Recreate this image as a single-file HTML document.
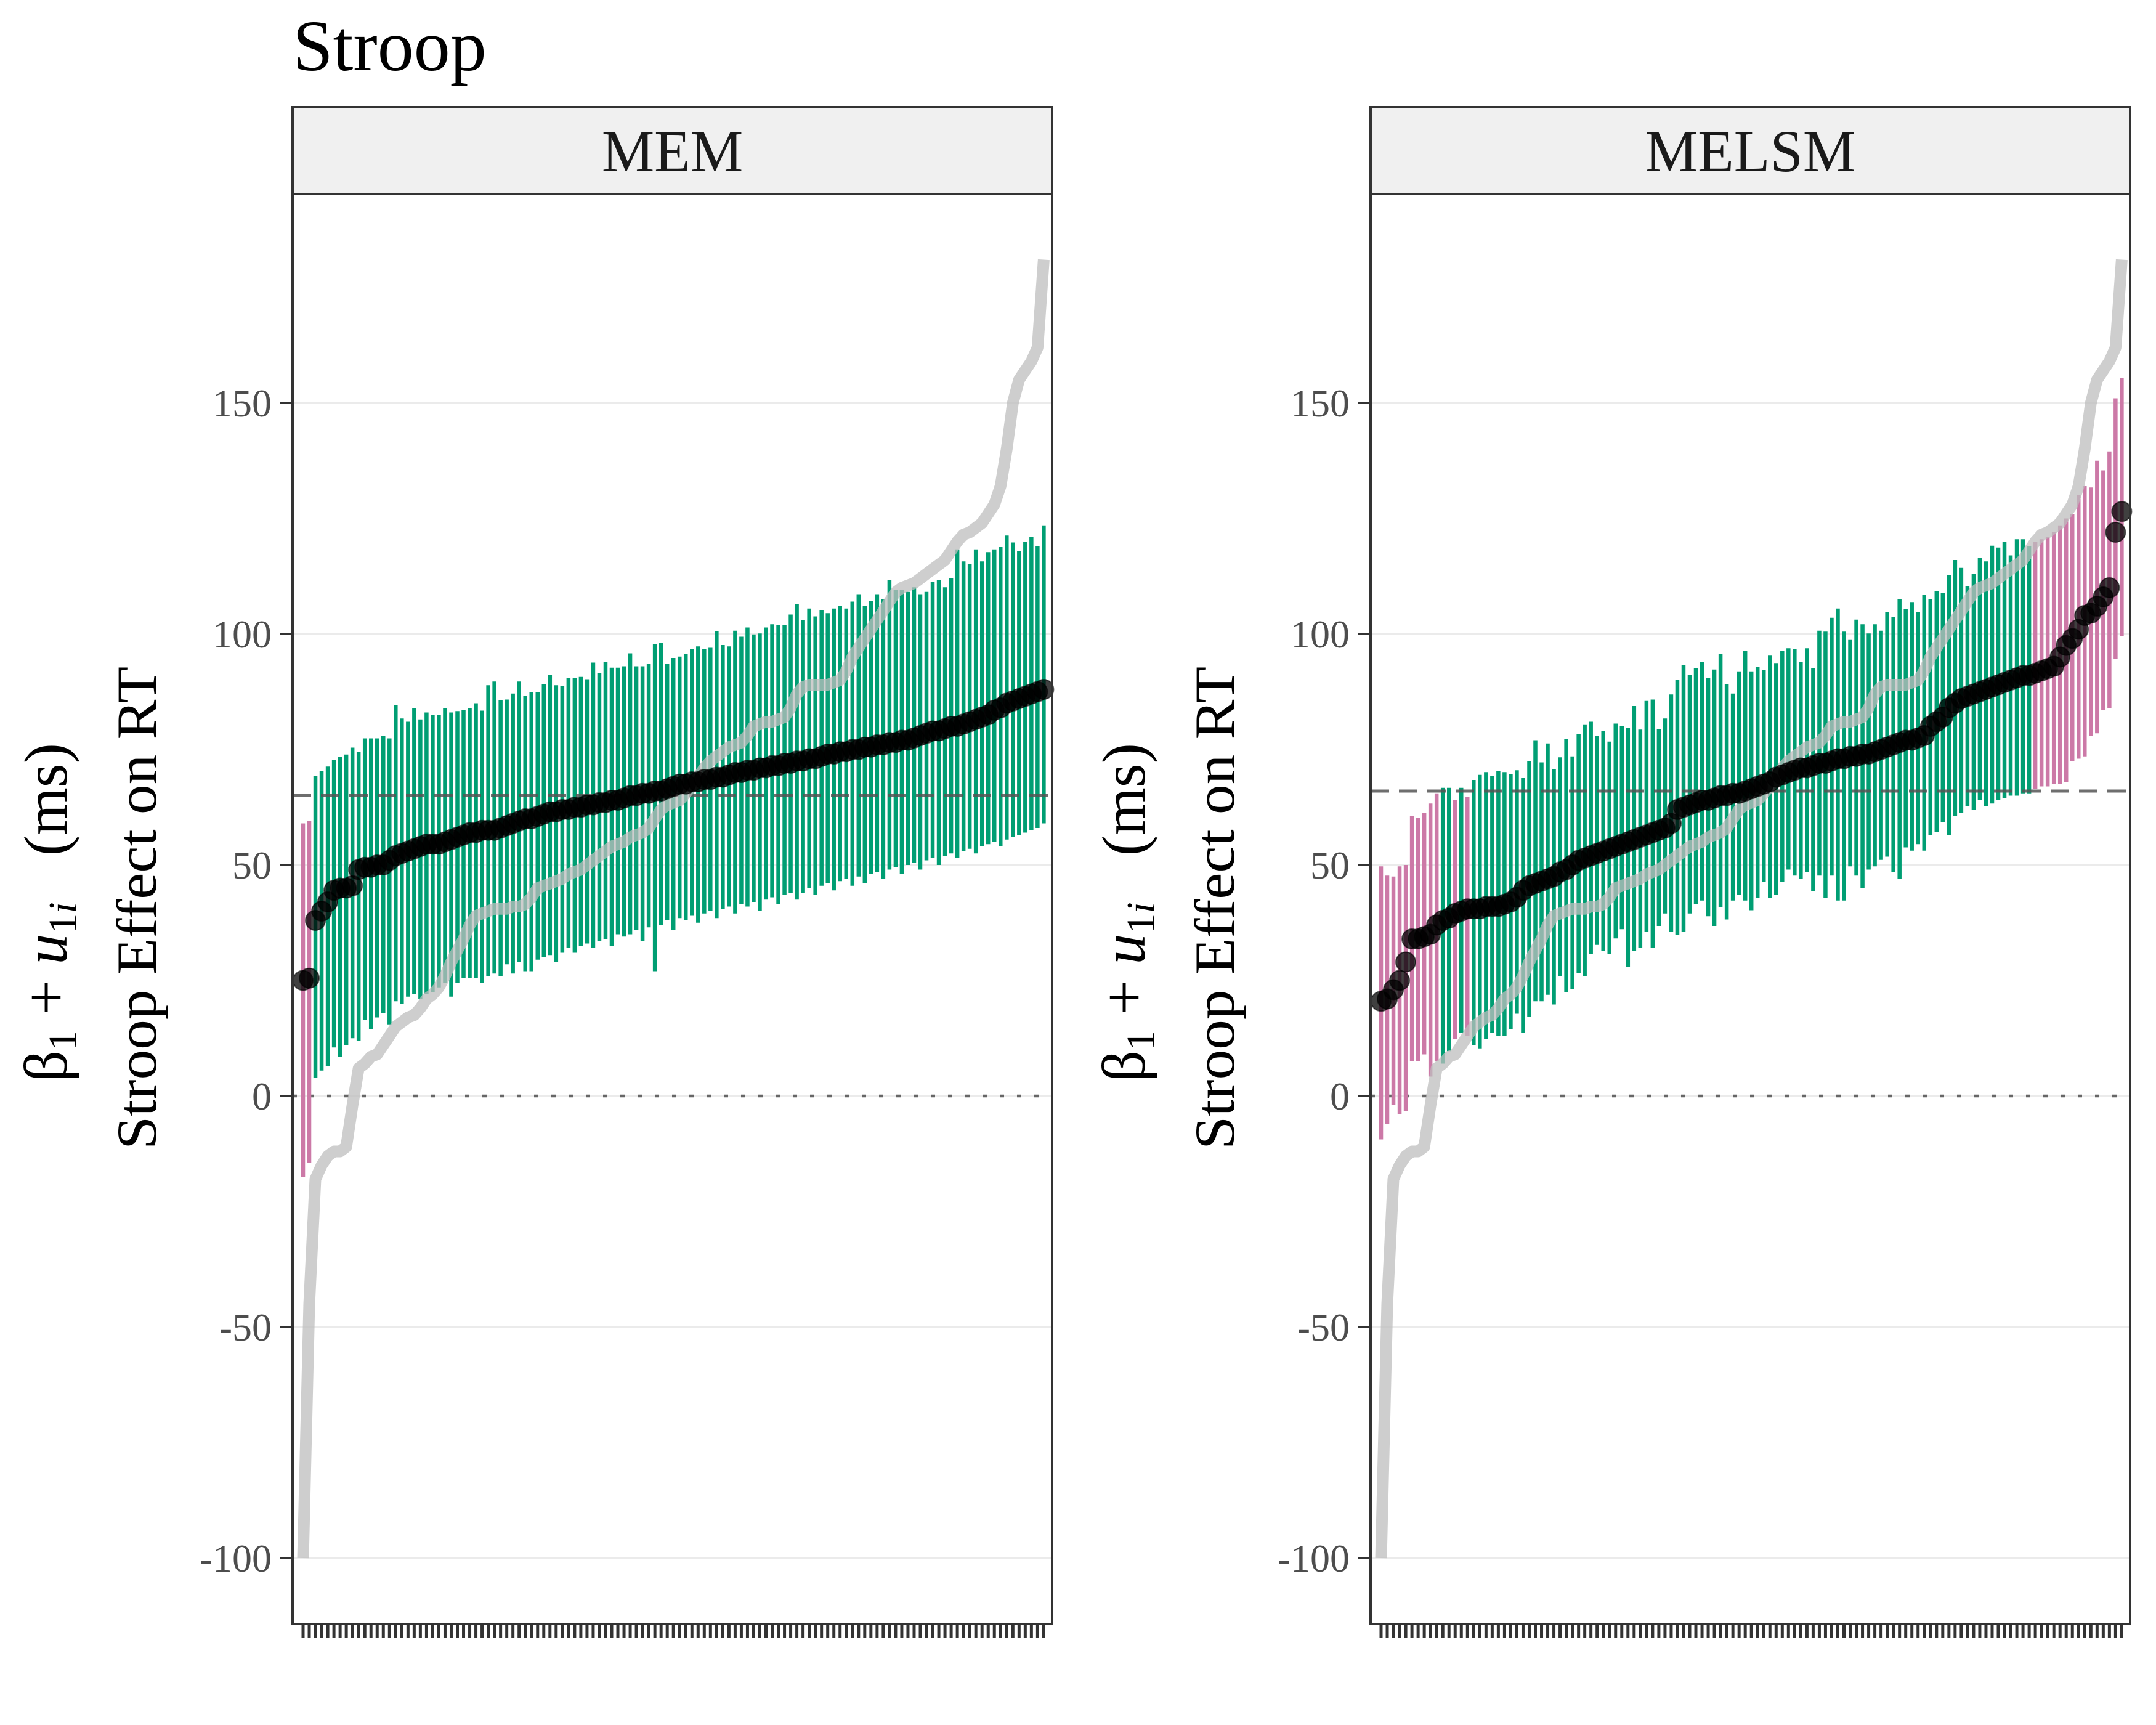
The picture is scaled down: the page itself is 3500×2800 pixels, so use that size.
<!DOCTYPE html>
<html><head><meta charset="utf-8"><style>
html,body{margin:0;padding:0;background:#fff;}
svg{display:block;}
</style></head><body>
<svg id="chart" xmlns="http://www.w3.org/2000/svg" width="3500" height="2800" viewBox="0 0 3500 2800" font-family="'Liberation Serif', serif">
<text x="475" y="114" font-size="118" fill="#000">Stroop</text>
<g id="panels"></g>
</svg>
<script>
const yTicks = [150, 100, 50, 0, -50, -100];
const yTickLabels = ["150", "100", "50", "0", "-50", "-100"];
const panelTitles = ["MEM", "MELSM"];
const groupMeans = [65, 66];
const observed = [-100,-45,-18,-15,-13,-12,-12,-11,-2,6,7,8.5,9,11,13,15,16,17,17.5,19,21,22,23.5,26,29,31.5,34,37,39,39.5,40,40.5,40.5,40.5,41,41,41.5,43,45,45.5,46,46.5,47,48,48.5,49,50,51,52,53,54,54.5,55,56,56.5,57,58,60,62,63,63.5,64,65.5,67,69,71,72.5,73.5,74.5,75.5,76,76.5,78,80,80.5,81,81,81.5,82,84,87,88.5,89,89,89,89,89.5,90,92,95,97,99,101,103,105,107,109,110,110.5,111,112,113,114,115,116,118,120,121.5,122,123,124,126,128,132,140,150,155,157,159,162,181];
const memEst = [25,25.5,38,40,42,44.5,45,45,45.5,49,49.5,49.5,50,50,51,52,52.5,53,53.5,54,54.5,54.5,54.5,55,55.5,56,56.5,57,57,57.5,57.5,57.5,58,58.5,59,59.5,60,60,60.5,61,61.5,61.5,62,62,62.5,62.5,63,63,63.5,63.5,64,64,64.5,65,65,65.5,65.5,66,66,66.5,67,67.5,67.5,68,68,68.5,68.5,69,69,69.5,70,70,70.5,70.5,71,71,71.5,71.5,72,72,72.5,72.5,73,73,73.5,74,74,74.5,74.5,75,75,75.5,75.5,76,76,76.5,76.5,77,77,77.5,78,78.5,79,79,79.5,80,80,80.5,81,81.5,82,82.5,83.5,84,85,85.5,86,86.5,87,87.5,88];
const memUpper = [59,59.5,69.3,70.3,71.3,72.8,73.4,73.9,75.4,74.4,77.4,77.4,77.4,78,77.4,84.6,81.7,81,84,81.5,83,82.5,82.5,84,83,83.3,83.6,84,85,83.4,88.9,89.7,85.6,85.8,87.1,89.7,86.6,87.4,87.4,89.2,91.2,88.9,88.7,90.5,90.5,90.7,90.2,93.8,91.5,94,92.7,92.7,93,95.8,93,93,93.6,97.8,98,93.6,94.8,95.1,95.6,96.8,97.3,96.8,97,100.6,97.6,97.3,100.7,99.4,101.4,99.9,100.1,101.4,102.1,101.9,101.9,104.2,106.5,103,105.5,103.8,105.2,104.5,105.5,106,105.5,107,108.6,106,107.2,108.6,107.5,111.6,109.6,109.6,109.1,110.1,108.6,109.1,111.3,111.6,110.1,112.1,118.3,115.7,115.2,118.3,115.7,117.7,118.3,118.8,121.3,119.8,118,120,121,119,123.5];
const memLower = [-17.5,-14.5,4,5.5,6.5,10.5,8.5,11,12.5,12,16.5,14.5,17,18,15.5,20.5,20,21.5,22,21,22,22.5,23.5,24.5,21.5,24.5,25.5,25.5,25.5,24.5,26,26.5,26,28.5,26.5,29,27,27,29.5,30,30.5,29,31,32,31,32.5,33,32,33.5,34,32.5,35,34.5,35,36,33.5,36.5,27,37,38,36,38.5,38,39,37.5,39.5,40,38.5,40.5,41,39.5,41.5,41,42,40,42.5,43,41.5,43.5,44,42.5,44,45,43.5,45.5,46,44.5,46.5,47,45.5,47.5,46,48,48.5,47,49,49.5,48,50,50.5,49,51,51.5,50,52,52.5,51.5,53,53.5,52.5,54,54.5,55,54,55.5,56,56.5,57,57.5,58,59];
const melsmEst = [20.5,21,23,25,29,34,34,34.5,35,37,38,38.5,39.5,40,40.5,40.5,40.5,41,41,41,41.5,42,43,44.5,45.5,46,46.5,47,47.5,48.5,49,50,51,51.5,52,52.5,53,53.5,54,54.5,55,55.5,56,56.5,57,57.5,58,59,62,62.5,63,63.5,64,64,64.5,65,65,65.5,65.5,66,66.5,67,67.5,68,69,69.5,70,70.5,71,71,71.5,72,72,72.5,73,73,73.5,73.5,74,74,74.5,75,75.5,76,76.5,77,77,77.5,78,80,81,82,84,85,86,86.5,87,87.5,88,88.5,89,89.5,90,90.5,91,91,91.5,92,92.5,93,95,97.5,99,101,104,104.5,106,108,110,122,126.5];
const melsmUpper = [49.7,47.7,47.5,49.7,50,60.6,60.2,61.3,63.3,65.5,66.7,66.7,64,66.7,64.7,68.4,69.5,70.1,69.2,70.4,70.1,69.7,70.5,68.8,72.5,77,72.2,76.3,70.8,73.3,77.3,73.5,78.3,80.3,81,78,79,76.7,80.6,80.1,79.7,84.4,79.3,85.5,85.8,79.4,81.7,86.9,90.1,93.3,91.2,92.6,94,90.5,92.3,95.7,89.2,87.1,91.9,96.4,91.9,92.9,92.2,95.3,93.7,96.4,96.9,96.7,94,96.9,92.6,100.7,100.5,103.5,105.5,100.5,98.7,103.1,102.1,100.1,102.1,100.7,104.8,103.7,107.5,105.4,106.9,104.8,108.5,107.5,109.2,108.9,112.7,116,114.3,110.3,113,116.4,115.7,119.1,118.7,120,117,120.5,120.5,119,120,120.5,121,122,123.5,125,126,130,132,131.7,137.5,135.4,139.5,151,155.4];
const melsmLower = [-9.4,-6,-2,-4,-3.3,7.6,7.6,9,4.2,7.6,7,9.7,12.3,13.7,13,11,10.3,12.3,13.7,13,13,14.4,17.8,13.7,17.1,20.5,20.5,21.9,19.8,26,22.5,23.2,26.6,26,30.7,32.7,31.4,30.7,34.1,36.1,28,31.4,32.1,35.5,32.1,36.8,39.5,35.5,34.8,35.5,39.5,41.6,42.3,38.9,36.8,40.9,38.2,42.3,43.6,42.3,40.2,42.9,46.3,42.9,43.6,46.3,49,47.7,47,48.4,44.3,47.7,42.9,47.7,42.3,42.3,49.7,47.7,45,49,49.7,51.1,51.8,48.4,47,53.8,53.1,54.5,53.1,56.5,57.2,59.3,56.5,60.6,61.3,62.7,62,64,62.7,63.3,64,64.5,65,65,65.5,65.5,66.5,67,67,67.5,67.5,68,72.5,73,73.5,78,78.5,83.5,84,94.6,99.6];

const ests = [memEst, melsmEst];
const uppers = [memUpper, melsmUpper];
const lowers = [memLower, melsmLower];
const nSubjects = observed.length;

const NS = "http://www.w3.org/2000/svg";
const panelLefts = [475, 2225];
const panelWidth = 1233;
const panelTop = 315, panelBottom = 2636, stripTop = 174;
function yScale(v){ return 2529 - (v + 100) * 7.5; }
function xScale(p, i){ return panelLefts[p] + 17 + i * 10.02; }
function mk(tag, attrs, parent){
  const e = document.createElementNS(NS, tag);
  for (const k in attrs) e.setAttribute(k, attrs[k]);
  parent.appendChild(e);
  return e;
}
const root = document.getElementById('panels');

for (let p = 0; p < 2; p++) {
  const L = panelLefts[p], R = L + panelWidth;
  const g = mk('g', {}, root);
  
  
  const strip = mk('rect', {x: L, y: stripTop, width: panelWidth, height: panelTop - stripTop, fill: '#f0f0f0', stroke: '#333', 'stroke-width': 4}, g);
  
  
  const st = mk('text', {x: (L + R) / 2, y: 278, 'font-size': 96, 'text-anchor': 'middle', fill: '#1a1a1a'}, g);
  st.textContent = panelTitles[p];
  
  
  yTicks.forEach((v, j) => {
    const y = yScale(v);
    const gl = mk('line', {x1: L, x2: R, y1: y, y2: y, stroke: '#ebebeb', 'stroke-width': 4}, g);
    
    
    const tk = mk('line', {x1: L - 20, x2: L, y1: y, y2: y, stroke: '#333', 'stroke-width': 4}, g);
    
    
    const tl = mk('text', {x: L - 34, y: y + 22, 'font-size': 64, 'text-anchor': 'end', fill: '#4d4d4d'}, g);
    tl.textContent = yTickLabels[j];
    
    
  });
  const z = mk('line', {x1: L, x2: R, y1: yScale(0), y2: yScale(0), stroke: '#666', 'stroke-width': 4.5, 'stroke-dasharray': '7 21'}, g);
  
  
  const est = ests[p], up = uppers[p], lo = lowers[p], m = groupMeans[p];
  for (let i = 0; i < nSubjects; i++) {
    const excl = up[i] < m || lo[i] > m;
    const b = mk('line', {x1: xScale(p, i), x2: xScale(p, i), y1: yScale(lo[i]), y2: yScale(up[i]), stroke: excl ? '#CC79A7' : '#009E73', 'stroke-width': 6.5}, g);
    
    
  }
  const ml = mk('line', {x1: L, x2: R, y1: yScale(m), y2: yScale(m), stroke: '#555', 'stroke-opacity': 0.85, 'stroke-width': 5, 'stroke-dasharray': '30 16'}, g);
  
  
  const pts = observed.map((v, i) => xScale(p, i).toFixed(1) + ',' + yScale(v).toFixed(1)).join(' ');
  const ol = mk('polyline', {points: pts, fill: 'none', stroke: '#bdbdbd', 'stroke-opacity': 0.75, 'stroke-width': 19, 'stroke-linejoin': 'round'}, g);
  
  
  for (let i = 0; i < nSubjects; i++) {
    const c = mk('circle', {cx: xScale(p, i), cy: yScale(est[i]), r: 16, fill: 'rgba(0,0,0,0.75)', stroke: 'rgba(0,0,0,0.6)', 'stroke-width': 2}, g);
    
    
  }
  for (let i = 0; i < nSubjects; i++) {
    const t = mk('line', {x1: xScale(p, i), x2: xScale(p, i), y1: panelBottom + 2, y2: panelBottom + 22, stroke: '#333', 'stroke-width': 5}, g);
    
    
  }
  const bd = mk('rect', {x: L, y: panelTop, width: panelWidth, height: panelBottom - panelTop, fill: 'none', stroke: '#333', 'stroke-width': 4}, g);
  
  
  const off = L - 475;
  const t1 = mk('text', {transform: 'translate(' + (108 + off) + ',1481) rotate(-90)', 'font-size': 100, 'text-anchor': 'middle', fill: '#000'}, g);
  t1.innerHTML = 'β<tspan font-size="66" dy="16">1</tspan><tspan dy="-16"> + </tspan><tspan font-style="italic">u</tspan><tspan font-size="66" dy="16">1<tspan font-style="italic">i</tspan></tspan><tspan dy="-16" xml:space="preserve">   (ms)</tspan>';
  
  
  const t2 = mk('text', {transform: 'translate(' + (253 + off) + ',1474) rotate(-90)', 'font-size': 92, 'text-anchor': 'middle', fill: '#000', textLength: 784, lengthAdjust: 'spacingAndGlyphs'}, g);
  t2.textContent = 'Stroop Effect on RT';
  
  
}
</script>
</body></html>
